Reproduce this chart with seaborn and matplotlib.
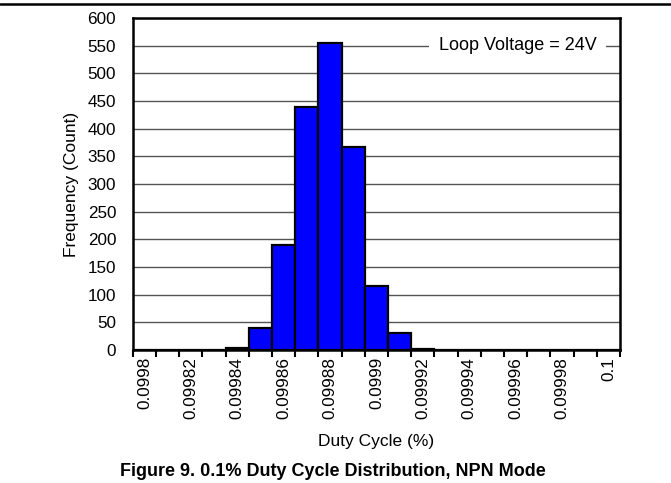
import numpy as np
import pandas as pd
import seaborn as sns
import matplotlib.pyplot as plt
from matplotlib.lines import Line2D

# Duty cycle bins (%) and counts
duty_bins = [0.0998, 0.09981, 0.09982, 0.09983, 0.09984, 0.09985, 0.09986,
             0.09987, 0.09988, 0.09989, 0.0999, 0.09991, 0.09992, 0.09993,
             0.09994, 0.09995, 0.09996, 0.09997, 0.09998, 0.09999, 0.1]
counts = [0, 0, 0, 0, 3, 40, 190, 440, 555, 366, 116, 31, 2, 0,
          0, 0, 0, 0, 0, 0, 0]
tick_labels = ["0.0998", "0.09982", "0.09984", "0.09986", "0.09988", "0.0999",
               "0.09992", "0.09994", "0.09996", "0.09998", "0.1"]
y_ticks = list(range(0, 601, 50))

df = pd.DataFrame({"bin": [str(b) for b in duty_bins], "count": counts})

sns.set_style("white", {"text.color": "black", "axes.labelcolor": "black",
                        "xtick.color": "black", "ytick.color": "black"})
plt.rcParams["font.family"] = ["Liberation Sans", "DejaVu Sans"]

fig = plt.figure(figsize=(6.71, 4.83), dpi=100)
ax = fig.add_axes([0.198, 0.2754, 0.726, 0.6873])

sns.barplot(data=df, x="bin", y="count", color="#0000FF", saturation=1,
            width=1.0, edgecolor="black", linewidth=1.6, ax=ax, zorder=3)

ax.set_xlim(-0.5, len(duty_bins) - 0.5)
ax.set_ylim(0, 600)
ax.set_yticks(y_ticks)
ax.yaxis.grid(True, color="#555555", linewidth=1.0, zorder=0)
ax.set_axisbelow(True)

ax.set_xticks(np.arange(0, len(duty_bins), 2))
ax.set_xticklabels(tick_labels, rotation=90, fontsize=12.3)
ax.set_xticks(np.arange(-0.5, len(duty_bins), 1), minor=True)
ax.tick_params(axis="x", which="major", length=0, pad=5)
ax.tick_params(axis="x", which="minor", length=5, width=1.5, color="black",
               direction="out", bottom=True)
ax.tick_params(axis="y", which="major", length=0, labelsize=12.3, pad=12)

for s in ax.spines.values():
    s.set_color("black")
    s.set_linewidth(1.8)
    s.set_zorder(5)

ax.set_xlabel("Duty Cycle (%)", fontsize=12.5, labelpad=11)
ax.set_ylabel("Frequency (Count)", fontsize=12.5, labelpad=6)

ax.text(0.79, 550, "Loop Voltage = 24V", transform=ax.get_yaxis_transform(),
        ha="center", va="center", fontsize=13, zorder=2,
        bbox=dict(facecolor="white", edgecolor="none", pad=7))

fig.text(0.496, 0.024, "Figure 9. 0.1% Duty Cycle Distribution, NPN Mode",
         ha="center", va="center", fontsize=13, fontweight="bold")
fig.add_artist(Line2D([0, 1], [0.991, 0.991], color="black", linewidth=1.8,
                      transform=fig.transFigure))

plt.savefig("out.png", dpi=100)
plt.close()
